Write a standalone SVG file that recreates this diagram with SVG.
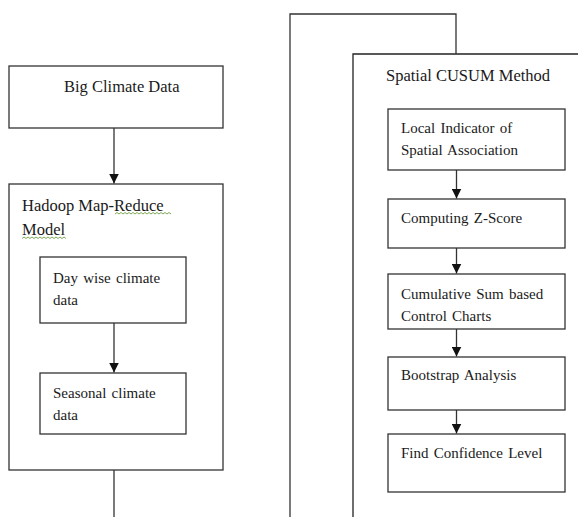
<svg xmlns="http://www.w3.org/2000/svg" width="578" height="517" viewBox="0 0 578 517">
<style>
.box{fill:#fff;stroke:#333;stroke-width:1.3}
.ln{fill:none;stroke:#333;stroke-width:1.3}
.t{font-family:"Liberation Serif","Times New Roman",serif;fill:#1a1a1a}
.lg{font-size:16.5px}
.sm{font-size:15px;word-spacing:1.5px}
.sq{fill:none;stroke:#6f9f45;stroke-width:0.9}
</style>
<defs>
<marker id="ah" markerWidth="10" markerHeight="10" refX="10" refY="5" orient="auto" markerUnits="userSpaceOnUse">
<path d="M0,0 L10,5 L0,10 Z" fill="#111"/>
</marker>
</defs>
<rect width="578" height="517" fill="#fff"/>
<g id="big-climate-data">
<rect class="box" x="9" y="66" width="214" height="62"/>
<text class="t lg" x="64" y="92">Big Climate Data</text>
</g>
<g id="hadoop">
<rect class="box" x="9" y="184" width="214" height="286"/>
<text class="t lg" x="22" y="211">Hadoop Map-Reduce</text>
<text class="t lg" x="22" y="235">Model</text>
<path class="sq" d="M115,214 l2,-1.5 l2,1.5 l2,-1.5 l2,1.5 l2,-1.5 l2,1.5 l2,-1.5 l2,1.5 l2,-1.5 l2,1.5 l2,-1.5 l2,1.5 l2,-1.5 l2,1.5 l2,-1.5 l2,1.5 l2,-1.5 l2,1.5 l2,-1.5 l2,1.5 l2,-1.5 l2,1.5 l2,-1.5 l2,1.5 l2,-1.5 l2,1.5 l2,-1.5 l2,1.5"/>
<path class="sq" d="M22,238.5 l2,-1.5 l2,1.5 l2,-1.5 l2,1.5 l2,-1.5 l2,1.5 l2,-1.5 l2,1.5 l2,-1.5 l2,1.5 l2,-1.5 l2,1.5 l2,-1.5 l2,1.5 l2,-1.5 l2,1.5 l2,-1.5 l2,1.5 l2,-1.5 l2,1.5 l2,-1.5 l2,1.5"/>
</g>
<g id="day-wise">
<rect class="box" x="40" y="257" width="146" height="66"/>
<text class="t sm" x="53" y="283">Day wise climate</text>
<text class="t sm" x="53" y="305">data</text>
</g>
<g id="seasonal">
<rect class="box" x="40" y="373" width="146" height="61"/>
<text class="t sm" x="53" y="398">Seasonal climate</text>
<text class="t sm" x="53" y="420">data</text>
</g>
<g id="spatial-cusum">
<polyline class="ln" points="353,517 353,54 578,54" style="stroke:#222"/>
<text class="t lg" x="386" y="81">Spatial CUSUM Method</text>
</g>
<g id="lisa">
<rect class="box" x="388" y="109" width="177" height="61"/>
<text class="t sm" x="401" y="133">Local Indicator of</text>
<text class="t sm" x="401" y="155">Spatial Association</text>
</g>
<g id="z-score">
<rect class="box" x="388" y="199" width="177" height="49"/>
<text class="t sm" x="401" y="223">Computing Z-Score</text>
</g>
<g id="cusum-charts">
<rect class="box" x="388" y="274" width="177" height="55"/>
<text class="t sm" x="401" y="299">Cumulative Sum based</text>
<text class="t sm" x="401" y="321">Control Charts</text>
</g>
<g id="bootstrap">
<rect class="box" x="388" y="357" width="177" height="53"/>
<text class="t sm" x="401" y="380">Bootstrap Analysis</text>
</g>
<g id="confidence">
<rect class="box" x="388" y="434" width="177" height="58"/>
<text class="t sm" x="401" y="458">Find Confidence Level</text>
</g>
<g id="connectors">
<line class="ln" x1="114" y1="128" x2="114" y2="183.5" marker-end="url(#ah)"/>
<line class="ln" x1="114" y1="323" x2="114" y2="372.5" marker-end="url(#ah)"/>
<line class="ln" x1="114" y1="470" x2="114" y2="517"/>
<polyline class="ln" points="290,517 290,14 456,14 456,54"/>
<line class="ln" x1="456.5" y1="170" x2="456.5" y2="198.5" marker-end="url(#ah)"/>
<line class="ln" x1="456.5" y1="248" x2="456.5" y2="273.5" marker-end="url(#ah)"/>
<line class="ln" x1="456.5" y1="329" x2="456.5" y2="356.5" marker-end="url(#ah)"/>
<line class="ln" x1="456.5" y1="410" x2="456.5" y2="433.5" marker-end="url(#ah)"/>
</g>
</svg>
